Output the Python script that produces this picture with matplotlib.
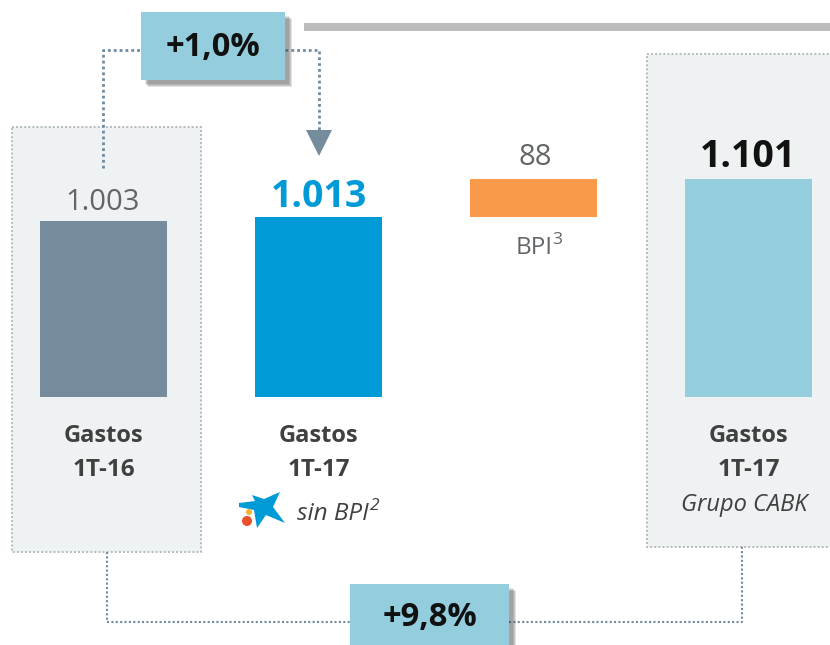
import matplotlib
matplotlib.use('Agg')
import matplotlib.pyplot as plt
from matplotlib.patches import Rectangle, Polygon, Circle

plt.rcParams['font.family'] = ['Open Sans', 'DejaVu Sans']

# valores de la figura (eje truncado, la base no es cero)
categorias = ['Gastos\n1T-16', 'Gastos\n1T-17', 'BPI', 'Gastos\n1T-17']
valores = [1003, 1013, 88, 1101]
bases = [596, 596, 1013, 596]
etiquetas = ['1.003', '1.013', '88', '1.101']
colores = ['#748c9c', '#009ad6', '#f99a4a', '#94cdde']
var_1t = '+1,0%'
var_grupo = '+9,8%'

W, H = 830, 645
fig = plt.figure(figsize=(W / 100, H / 100), dpi=100)

# eje de pixeles para cajas y flechas
px = fig.add_axes([0, 0, 1, 1])
px.set_xlim(0, W)
px.set_ylim(H, 0)
px.axis('off')

# eje de las barras: misma x en pixeles, y en valores
ax = fig.add_axes([0, 0, 1, 1])
ax.set_xlim(0, W)
ax.set_ylim(596 - (H - 397) / 0.432, 596 + 397 / 0.432)
ax.axis('off')
ax.patch.set_alpha(0)

gris_punt = '#b4babd'
azul_punt = '#6f8aa0'
punt = (0, (1, 1.1))


def caja_fondo(x0, y0, x1, y1):
    px.add_patch(Rectangle((x0, y0), x1 - x0, y1 - y0, facecolor='#eef2f3',
                           edgecolor=gris_punt, lw=1.4, ls=punt, zorder=1))


def caja_pct(x0, y0, x1, y1, txt, ytxt):
    # sombra difusa
    for i in range(8, 0, -1):
        px.add_patch(Rectangle((x0 + 3 + i * 0.5, y0 + 3 + i * 0.5), x1 - x0, y1 - y0,
                               facecolor='#555555', alpha=0.09, lw=0, zorder=4))
    px.add_patch(Rectangle((x0, y0), x1 - x0, y1 - y0, facecolor='#94cdde', lw=0, zorder=5))
    px.text((x0 + x1) / 2, ytxt, txt, ha='center', va='center',
            fontsize=23.5, fontweight='bold', color='#111111', zorder=6)


caja_fondo(12, 127, 201, 552)
caja_fondo(647, 54, 840, 547)

# barra gris de arriba
px.add_patch(Rectangle((304, 23), 530, 8, facecolor='#bdbdbd', lw=0, zorder=1))

# conectores punteados
px.plot([103, 103, 141], [168, 50, 50], color=azul_punt, lw=2.0, ls=punt, zorder=3)
px.plot([285, 319, 319], [50, 50, 130], color=azul_punt, lw=2.0, ls=punt, zorder=3)
px.add_patch(Polygon([(306, 130), (332, 130), (319, 156)], facecolor='#748c9c', lw=0, zorder=3))
px.plot([107, 107, 350], [552, 622, 622], color=azul_punt, lw=1.5, ls=punt, zorder=3)
px.plot([509, 742, 742], [622, 622, 547], color=azul_punt, lw=1.5, ls=punt, zorder=3)

caja_pct(141, 12, 285, 80, var_1t, 48)
caja_pct(350, 584, 509, 650, var_grupo, 618)

# barras
centros = [103.5, 318.5, 533.5, 748.5]
for i in range(4):
    alto = valores[i] if i == 2 else valores[i] - bases[i]
    ax.bar(centros[i], alto, width=127, bottom=bases[i], color=colores[i], zorder=2)

# etiquetas de valor
gris = '#636668'
ax.text(centros[0] - 1, 1003 + 10, etiquetas[0], ha='center', va='bottom', fontsize=21, color=gris, zorder=6)
ax.text(centros[1], 1013 + 3, etiquetas[1], ha='center', va='bottom', fontsize=27, fontweight='bold', color='#009ad6', zorder=6)
ax.text(centros[2] + 2, 1101 + 16, etiquetas[2], ha='center', va='bottom', fontsize=21, color=gris, zorder=6)
ax.text(centros[3] - 1, 1101 + 7, etiquetas[3], ha='center', va='bottom', fontsize=27, fontweight='bold', color='#111111', zorder=6)

# textos de categoria
oscuro = '#404040'
for i in [0, 1, 3]:
    l1, l2 = categorias[i].split('\n')
    px.text(centros[i], 436, l1, ha='center', va='center', fontsize=17, fontweight='bold', color=oscuro, zorder=6)
    px.text(centros[i], 470, l2, ha='center', va='center', fontsize=17.5, fontweight='bold', color=oscuro, zorder=6)

px.text(516, 248, categorias[2], ha='left', va='center', fontsize=17.5, color=gris, zorder=6)
px.text(552, 240, '3', ha='left', va='center', fontsize=12.5, color=gris, zorder=6)
px.text(297, 514, 'sin BPI', ha='left', va='center', fontsize=17.5, style='italic', color=oscuro, zorder=6)
px.text(370, 506, '2', ha='left', va='center', fontsize=12.5, style='italic', color=oscuro, zorder=6)
px.text(744, 505, 'Grupo CABK', ha='center', va='center', fontsize=17, style='italic', color=oscuro, zorder=6)

# logo (estrella) a mano
estrella = [(239, 503), (255, 501), (252, 495), (264, 499), (280, 492), (273, 507), (285, 523),
            (266, 515), (257, 528), (254, 510), (239, 507)]
px.add_patch(Polygon(estrella, facecolor='#009ad6', lw=0, zorder=6))
px.add_patch(Circle((249, 512), 3, facecolor='#f9b233', lw=0, zorder=7))
px.add_patch(Circle((247, 521), 5, facecolor='#e8502a', lw=0, zorder=7))

fig.savefig('out.png', dpi=100, facecolor='white')
